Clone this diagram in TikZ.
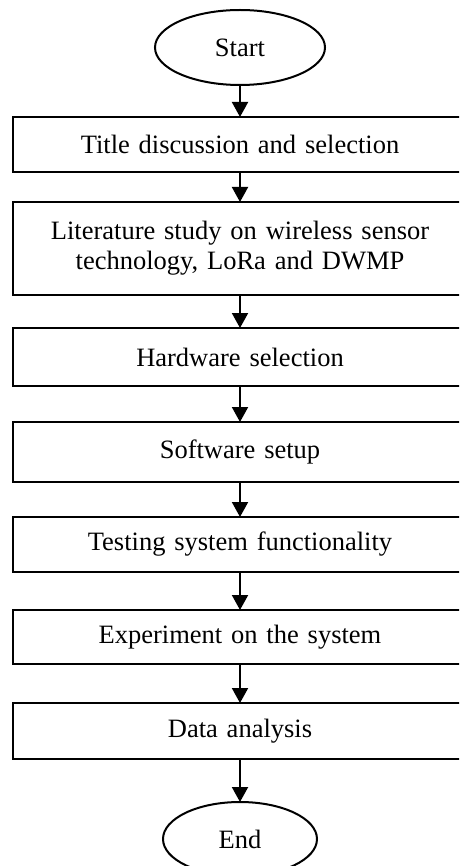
\documentclass[tikz,border=0pt]{standalone}
\usepackage{fontspec}
\setmainfont{Liberation Serif}
\usetikzlibrary{positioning,shapes.geometric,arrows.meta}
\tikzset{>={Triangle[length=15pt,width=16pt]}}
\tikzset{
  stepbox/.style={draw, line width=2pt, inner sep=0pt, outer sep=0pt,
    minimum width=455pt, text width=440pt, align=center,
    font=\fontsize{26.5}{30}\selectfont},
  termbox/.style={draw, ellipse, line width=2pt, inner sep=0pt, outer sep=0pt,
    font=\fontsize{26.5}{30}\selectfont}
}

\begin{document}
\begin{tikzpicture}[x=1pt,y=-1pt]
            \useasboundingbox (0,0) rectangle (459,866);
            \clip (0,0) rectangle (459,866);

            \node [termbox,
              minimum width=170pt,
              minimum height=75pt
            ] (start) at (240,47.5) {Start};

            \node [stepbox,
              minimum height=55pt,
              below=32pt of start
            ] (title) {Title discussion and selection};

            \node [stepbox,
              minimum height=93pt,
              below=30pt of title
            ] (lit) {Literature study on wireless sensor\\technology, LoRa and DWMP};

            \node [stepbox,
              minimum height=58pt,
              below=33pt of lit
            ] (hw) {Hardware selection};

            \node [stepbox,
              minimum height=60pt,
              below=36pt of hw
            ] (sw) {Software setup};

            \node [stepbox,
              minimum height=55pt,
              below=35pt of sw
            ] (test) {Testing system functionality};

            \node [stepbox,
              minimum height=54pt,
              below=38pt of test
            ] (exp) {Experiment on the system};

            \node [stepbox,
              minimum height=56pt,
              below=39pt of exp
            ] (data) {Data analysis};

            \node [termbox,
              minimum width=154pt,
              minimum height=74pt,
              below=43pt of data
            ] (end) {End};

            \draw[->, line width=2pt] (start.south) -- (title.north);
            \draw[->, line width=2pt] (title.south) -- (lit.north);
            \draw[->, line width=2pt] (lit.south) -- (hw.north);
            \draw[->, line width=2pt] (hw.south) -- (sw.north);
            \draw[->, line width=2pt] (sw.south) -- (test.north);
            \draw[->, line width=2pt] (test.south) -- (exp.north);
            \draw[->, line width=2pt] (exp.south) -- (data.north);
            \draw[->, line width=2pt] (data.south) -- (end.north);
          \end{tikzpicture}
\end{document}
